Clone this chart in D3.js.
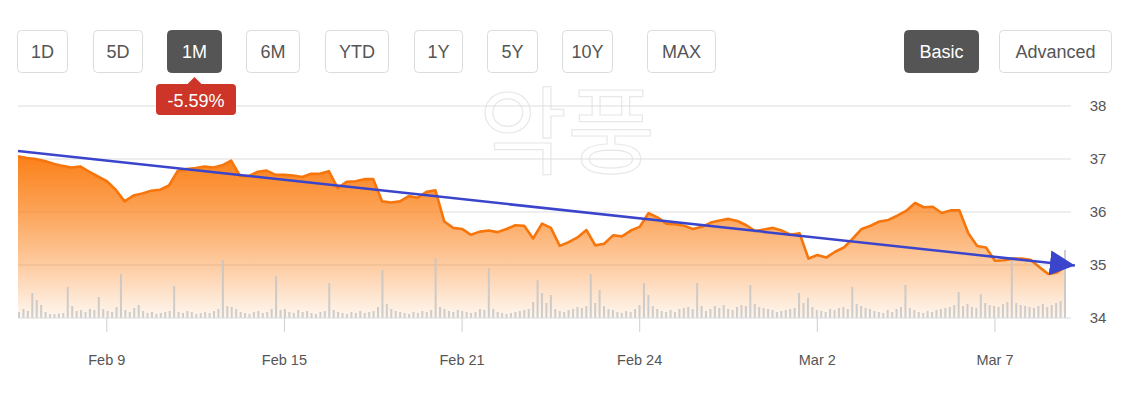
<!DOCTYPE html>
<html><head><meta charset="utf-8">
<script src="https://cdn.jsdelivr.net/npm/d3@7"></script>
<style>
html,body{margin:0;padding:0;background:#fff;}
svg{display:block;font-family:"Liberation Sans",Arial,sans-serif;}
</style></head>
<body><svg id="c" width="1134" height="394"></svg>
<script>
// ---- data ----
const rangeButtons = ["1D","5D","1M","6M","YTD","1Y","5Y","10Y","MAX"];
const activeRange = "1M";
const modeButtons = ["Basic","Advanced"];
const activeMode = "Basic";
const changeLabel = "-5.59%";
const watermark = "악풍";

const prices = [
 37.05,37.02,37.00,36.96,36.91,36.87,36.84,36.86,36.76,36.67,
 36.58,36.42,36.20,36.31,36.35,36.40,36.42,36.50,36.78,36.81,
 36.83,36.86,36.84,36.88,36.97,36.68,36.68,36.76,36.78,36.70,
 36.70,36.69,36.66,36.72,36.72,36.77,36.45,36.57,36.58,36.62,
 36.62,36.20,36.18,36.20,36.30,36.27,36.38,36.41,35.82,35.70,
 35.68,35.57,35.63,35.65,35.62,35.68,35.75,35.74,35.50,35.78,
 35.70,35.36,35.43,35.52,35.66,35.37,35.40,35.56,35.54,35.65,
 35.72,35.98,35.90,35.78,35.77,35.74,35.68,35.72,35.80,35.84,
 35.87,35.83,35.75,35.64,35.67,35.70,35.65,35.57,35.60,35.12,
 35.19,35.14,35.25,35.33,35.50,35.68,35.74,35.82,35.85,35.93,
 36.02,36.17,36.09,36.10,35.98,36.03,36.03,35.60,35.36,35.33,
 35.08,35.09,35.12,35.12,35.10,34.96,34.83,34.86,34.98
];
// volume bars, two per price step
const volumes = [
 60,90,70,250,180,130,60,40,40,45,50,310,120,70,80,60,90,80,210,90,
 70,60,110,440,80,60,100,130,70,50,60,40,50,60,70,320,60,50,70,60,
 40,50,60,50,70,90,580,120,110,90,60,50,40,60,70,50,60,90,420,80,
 90,60,50,80,60,70,50,40,60,70,350,80,60,50,40,60,50,70,50,60,
 70,110,480,140,90,70,60,50,40,60,50,70,60,80,600,110,90,70,60,80,
 70,60,50,60,90,80,500,90,60,50,40,50,60,70,80,90,160,380,250,150,
 230,90,70,60,80,90,110,100,120,440,150,280,120,90,80,60,50,70,60,90,
 130,350,230,120,90,70,60,80,60,90,100,110,90,350,120,70,90,120,100,130,
 90,80,110,130,120,330,140,110,100,90,80,60,70,80,90,100,250,150,200,110,
 80,70,60,90,80,100,110,90,310,140,120,100,90,70,60,50,80,60,90,110,
 330,100,80,60,50,70,60,80,90,100,110,130,260,120,140,110,100,240,150,130,
 120,110,140,160,580,150,130,120,110,100,120,140,110,130,150,170,680
];
const yTicks = [34,35,36,37,38];
const xTickIdx = [10,30,50,70,90,110];
const xTickLabels = ["Feb 9","Feb 15","Feb 21","Feb 24","Mar 2","Mar 7"];
const trendIdx = [0,119];
const trendPrice = [37.15,34.99];

// ---- layout ----
const svg = d3.select("#c");
const L = 18, R = 1066, T = 106, B = 318;
const x = d3.scaleLinear().domain([0, prices.length-1]).range([L, R]);
const y = d3.scaleLinear().domain([34,38]).range([B, T]);
const xv = d3.scaleLinear().domain([0, volumes.length-1]).range([L+1, R-1]);
const hv = d3.scaleLinear().domain([0,1000]).range([0,100]);

const defs = svg.append("defs");
const g = defs.append("linearGradient").attr("id","ag")
  .attr("gradientUnits","userSpaceOnUse").attr("x1",0).attr("x2",0).attr("y1",150).attr("y2",B);
[[0,1],[0.35,0.72],[0.7,0.38],[1,0.06]].forEach(([o,a])=>
  g.append("stop").attr("offset",o).attr("stop-color","#fb7d12").attr("stop-opacity",a));
defs.append("marker").attr("id","arr").attr("viewBox","0 0 10 10")
  .attr("refX",10).attr("refY",5).attr("markerWidth",10).attr("markerHeight",10)
  .attr("markerUnits","strokeWidth").attr("orient","auto")
  .append("path").attr("d","M0,0L10,5L0,10Z").attr("fill","#3a45cb");

// watermark
svg.append("text").attr("x",567).attr("y",166).attr("text-anchor","middle")
  .attr("font-family","'Noto Sans CJK KR',sans-serif").attr("font-size",96)
  .attr("fill","none").attr("stroke","#e8e8e8").attr("stroke-width",1.2)
  .text(watermark);

// grid
svg.append("g").selectAll("line").data(yTicks.filter(d=>d>34)).join("line")
  .attr("x1",L).attr("x2",1071).attr("y1",d=>y(d)).attr("y2",d=>y(d))
  .attr("stroke","#dedede").attr("stroke-width",1.2);
svg.append("g").selectAll("text").data(yTicks).join("text")
  .attr("x",1098).attr("y",d=>y(d)+5).attr("text-anchor","middle")
  .attr("font-size",15).attr("fill","#555").text(d=>d);

// area
svg.append("path").datum(prices)
  .attr("d", d3.area().x((d,i)=>x(i)).y0(B).y1(d=>y(d)))
  .attr("fill","url(#ag)");

// volume
svg.append("g").selectAll("rect").data(volumes).join("rect")
  .attr("x",(d,i)=>xv(i)-1).attr("width",2)
  .attr("y",d=>B-hv(d)).attr("height",d=>hv(d))
  .attr("fill","#c6c6c6").attr("opacity",0.85);

// price line
svg.append("path").datum(prices)
  .attr("d", d3.line().x((d,i)=>x(i)).y(d=>y(d)))
  .attr("fill","none").attr("stroke","#f7760c").attr("stroke-width",2.6)
  .attr("stroke-linejoin","round");

// x axis
svg.append("line").attr("x1",L).attr("x2",1071).attr("y1",B).attr("y2",B)
  .attr("stroke","#dcdcdc");
svg.append("g").selectAll("line").data(xTickIdx).join("line")
  .attr("x1",d=>x(d)).attr("x2",d=>x(d)).attr("y1",B).attr("y2",B+14)
  .attr("stroke","#cfcfcf");
svg.append("g").selectAll("text").data(xTickIdx).join("text")
  .attr("x",d=>x(d)).attr("y",365).attr("text-anchor","middle")
  .attr("font-size",14.5).attr("fill","#555").text((d,i)=>xTickLabels[i]);

// trend arrow
svg.append("line")
  .attr("x1",x(trendIdx[0])).attr("y1",y(trendPrice[0]))
  .attr("x2",x(trendIdx[1])).attr("y2",y(trendPrice[1]))
  .attr("stroke","#3a45cb").attr("stroke-width",2.5).attr("marker-end","url(#arr)");

// buttons
const btnX = [[17,68],[93,143],[167,222],[246,300],[325,389],[414,463],[487,538],[562,613],[647,716]];
const modeX = [[904,979],[999,1112]];
function drawBtn(label, x0, x1, active){
  svg.append("rect").attr("x",x0+0.5).attr("y",30.5).attr("width",x1-x0-1).attr("height",42)
    .attr("rx",4).attr("fill",active?"#555":"#fff").attr("stroke",active?"#555":"#dcdcdc");
  svg.append("text").attr("x",(x0+x1)/2).attr("y",58).attr("text-anchor","middle")
    .attr("font-size",18).attr("fill",active?"#fff":"#555").text(label);
}
rangeButtons.forEach((b,i)=>drawBtn(b,btnX[i][0],btnX[i][1],b===activeRange));
modeButtons.forEach((b,i)=>drawBtn(b,modeX[i][0],modeX[i][1],b===activeMode));

// change badge
const bx = (btnX[2][0]+btnX[2][1])/2;
svg.append("path").attr("d",`M${bx-8},85L${bx},77L${bx+8},85Z`).attr("fill","#cc3527");
svg.append("rect").attr("x",156).attr("y",84).attr("width",80).attr("height",31).attr("rx",4).attr("fill","#cc3527");
svg.append("text").attr("x",196).attr("y",107).attr("text-anchor","middle")
  .attr("font-size",18).attr("fill","#fff").text(changeLabel);
</script></body></html>
